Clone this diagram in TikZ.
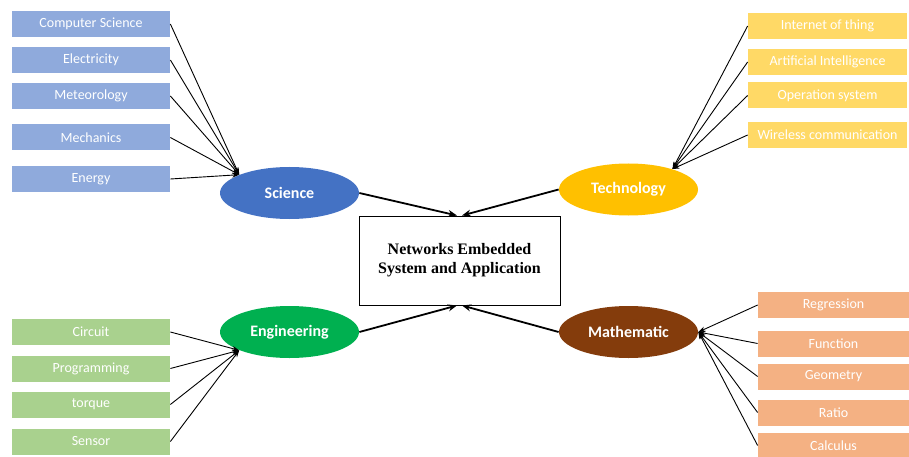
\documentclass[tikz,border=0pt]{standalone}
\usepackage{fontspec}
\setmainfont{Carlito}
\newfontfamily\timesfont{Liberation Serif}
\usetikzlibrary{arrows.meta,shapes.geometric}

\definecolor{scileaf}{HTML}{8FAADC}
\definecolor{scihub}{HTML}{4472C4}
\definecolor{techleaf}{HTML}{FFD966}
\definecolor{techhub}{HTML}{FFC000}
\definecolor{engleaf}{HTML}{A9D18E}
\definecolor{enghub}{HTML}{00B050}
\definecolor{mathleaf}{HTML}{F4B183}
\definecolor{mathhub}{HTML}{843C0C}

\tikzset{every picture/.style={line width=0.75pt}}
\tikzset{
  leaf/.style={minimum height=26, inner sep=0pt, text=white, font=\fontsize{14}{16}\selectfont},
  hub/.style={ellipse, minimum width=139, minimum height=52, inner sep=0pt, text=white, font=\fontsize{16}{18}\selectfont\bfseries},
  feed/.style={-{Stealth[length=7pt,width=5pt]}, line width=0.9pt},
  hubarrow/.style={-{Stealth[length=9pt,width=7pt]}, line width=1.8pt},
}

\begin{document}
\begin{tikzpicture}[x=1pt,y=1pt,yscale=-1,xscale=1]
    \useasboundingbox (0,0) rectangle (909,457);

    % Central Box
    \node [draw, line width=1pt, minimum width=201, minimum height=89, align=center, font=\timesfont\bfseries\fontsize{16}{19}\selectfont] (nesa) at (459.5,260.5) {Networks Embedded\\System and Application};

    % Hubs
    \node [hub, fill=scihub] (sci) at (289.5,193) {Science};
    \node [hub, fill=techhub] (tech) at (628.5,189.5) {Technology};
    \node [hub, fill=enghub] (eng) at (289.5,332) {Engineering};
    \node [hub, fill=mathhub] (math) at (628.5,332) {Mathematic};

    % Science leaves
    \node [leaf, fill=scileaf, minimum width=158] (cs) at (91,24) {Computer Science};
    \node [leaf, fill=scileaf, minimum width=158] (elec) at (91,60) {Electricity};
    \node [leaf, fill=scileaf, minimum width=158] (meteo) at (91,96) {Meteorology};
    \node [leaf, fill=scileaf, minimum width=158] (mech) at (91,137.5) {Mechanics};
    \node [leaf, fill=scileaf, minimum width=158] (energy) at (91,179) {Energy};

    % Technology leaves
    \node [leaf, fill=techleaf, minimum width=159] (iot) at (827.5,26) {Internet of thing};
    \node [leaf, fill=techleaf, minimum width=159] (ai) at (827.5,62) {Artificial Intelligence};
    \node [leaf, fill=techleaf, minimum width=159] (os) at (827.5,95.5) {Operation system};
    \node [leaf, fill=techleaf, minimum width=159] (wcom) at (827.5,135) {Wireless communication};

    % Engineering leaves
    \node [leaf, fill=engleaf, minimum width=158] (circ) at (91,332) {Circuit};
    \node [leaf, fill=engleaf, minimum width=158] (prog) at (91,368.5) {Programming};
    \node [leaf, fill=engleaf, minimum width=158] (torq) at (91,404.5) {torque};
    \node [leaf, fill=engleaf, minimum width=158] (sens) at (91,441.5) {Sensor};

    % Mathematic leaves
    \node [leaf, fill=mathleaf, minimum width=151] (regr) at (833.5,305) {Regression};
    \node [leaf, fill=mathleaf, minimum width=151] (func) at (833.5,343.5) {Function};
    \node [leaf, fill=mathleaf, minimum width=151] (geom) at (833.5,376.5) {Geometry};
    \node [leaf, fill=mathleaf, minimum width=151] (ratio) at (833.5,412.5) {Ratio};
    \node [leaf, fill=mathleaf, minimum width=151] (calc) at (833.5,445.5) {Calculus};

    %Straight Lines (leaves to hubs)
    \foreach \n in {cs,elec,meteo,mech,energy} \draw [feed] (\n.east) -- (sci.160);
    \foreach \n in {iot,ai,os,wcom} \draw [feed] (\n.west) -- (tech.25);
    \foreach \n in {circ,prog,torq,sens} \draw [feed] (\n.east) -- (eng.200);
    \foreach \n in {regr,func,geom,ratio,calc} \draw [feed] (\n.west) -- (math.east);

    %Straight Lines (hubs to centre)
    \draw [hubarrow] (sci.east) -- ([xshift=-2.5]nesa.north);
    \draw [hubarrow] (tech.west) -- ([xshift=2.5]nesa.north);
    \draw [hubarrow] (eng.east) -- ([xshift=-2.5]nesa.south);
    \draw [hubarrow] (math.west) -- ([xshift=2.5]nesa.south);

\end{tikzpicture}
\end{document}
